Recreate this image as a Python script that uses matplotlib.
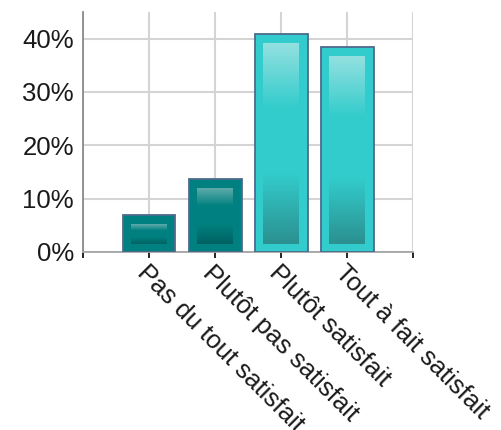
import matplotlib
matplotlib.use("Agg")
import matplotlib.pyplot as plt
import numpy as np
from matplotlib.colors import to_rgb

plt.rcParams['font.family'] = ['Liberation Sans', 'DejaVu Sans']

categories = ["Pas du tout satisfait", "Plutôt pas satisfait",
              "Plutôt satisfait", "Tout à fait satisfait"]
values = [6.9, 13.7, 40.8, 38.4]
bar_colors = ["#008080", "#008080", "#33CCCC", "#33CCCC"]
light_colors = ["#5fabab", "#5fabab", "#94e0e0", "#94e0e0"]
dark_colors = ["#006262", "#006262", "#2b9090", "#2b9090"]
y_ticks = [0, 10, 20, 30, 40]
y_tick_labels = ["0%", "10%", "20%", "30%", "40%"]

W, H = 5.02, 4.30
fig = plt.figure(figsize=(W, H), dpi=100)
pos = [0.1653, 0.4140, 0.6580, 0.5581]
ax = fig.add_axes(pos)

xlim = (-1, 4)
ylim = (0, 45)
x = np.arange(len(categories))
bar_w = 0.8
ax.bar(x, values, width=bar_w, color=bar_colors, edgecolor="#4f6a8c",
       linewidth=1.3, zorder=3)

# pixel -> data conversions for inner gradient panel
px_x = pos[2] * W * 100 / (xlim[1] - xlim[0])
px_y = pos[3] * H * 100 / (ylim[1] - ylim[0])
inner_w = 0.54
top_in = 10 / px_y
bot_in = 7.5 / px_y


def grad(base, light, dark, n=200):
    b, l, d = np.array(to_rgb(base)), np.array(to_rgb(light)), np.array(to_rgb(dark))
    t = np.linspace(0, 1, n)
    out = np.zeros((n, 1, 3))
    for i, ti in enumerate(t):
        if ti < 0.32:
            f = ti / 0.32
            c = l * (1 - f) + b * f
        elif ti < 0.65:
            c = b
        else:
            f = (ti - 0.65) / 0.35
            c = b * (1 - f) + d * f
        out[i, 0] = c
    return out


for xi, v, bc, lc, dc in zip(x, values, bar_colors, light_colors, dark_colors):
    y0 = bot_in
    y1 = v - top_in
    if y1 > y0:
        ax.imshow(grad(bc, lc, dc), extent=(xi - inner_w / 2, xi + inner_w / 2, y0, y1),
                  origin="upper", aspect="auto", interpolation="bilinear", zorder=4)

ax.set_xlim(*xlim)
ax.set_ylim(*ylim)

ax.set_yticks(y_ticks)
ax.set_yticklabels(y_tick_labels)
ax.set_xticks(list(range(-1, 5)))
ax.set_xticklabels([""] + categories + [""], rotation=-45, ha="left", va="top",
                   rotation_mode="anchor", fontsize=18.5, color="#1a1a1a")

ax.set_axisbelow(True)
ax.grid(True, color="#d4d4d4", linewidth=1.5)

for s in ("top", "right"):
    ax.spines[s].set_visible(False)
ax.spines["left"].set_color("#8a8a8a")
ax.spines["left"].set_linewidth(1.3)
ax.spines["bottom"].set_color("#a5a5a5")
ax.spines["bottom"].set_linewidth(1.3)

ax.tick_params(axis="y", length=0, pad=6.5, labelsize=18.5, labelcolor="#1a1a1a")
ax.tick_params(axis="x", length=4.3, width=1.2, color="black", direction="out", pad=2)

fig.savefig("out.png", dpi=100)
